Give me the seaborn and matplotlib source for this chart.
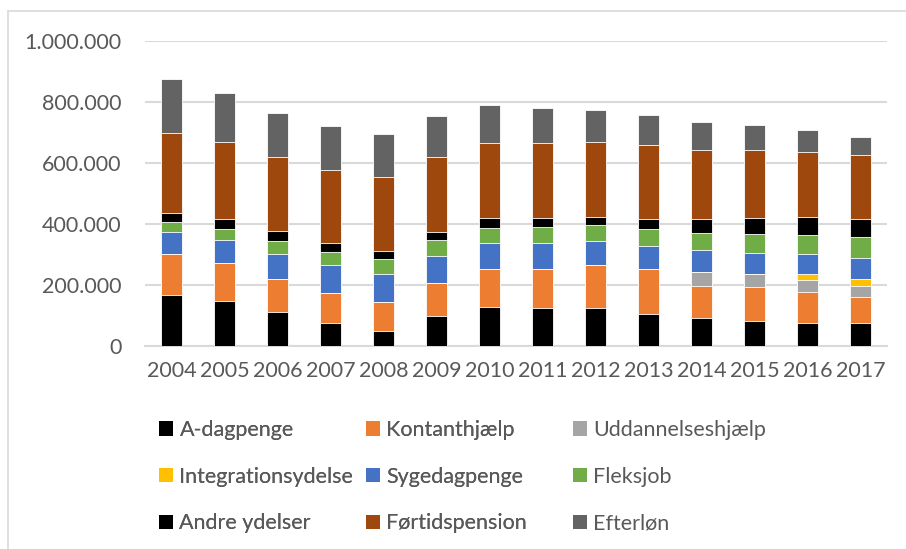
import matplotlib
matplotlib.use('Agg')
import numpy as np
import pandas as pd
import matplotlib.pyplot as plt
from matplotlib.patches import Patch
from matplotlib.lines import Line2D
import seaborn as sns

# values (persons)
years = ['2004', '2005', '2006', '2007', '2008', '2009', '2010',
         '2011', '2012', '2013', '2014', '2015', '2016', '2017']
a_dagpenge = [167000, 146000, 112000, 74000, 50000, 99000, 129000,
              125000, 125000, 105000, 92000, 83000, 77000, 77000]
kontanthjaelp = [134000, 126000, 109000, 99000, 95000, 109000, 122000,
                 128000, 140000, 149000, 105000, 110000, 101000, 84000]
uddannelseshjaelp = [0, 0, 0, 0, 0, 0, 0, 0, 0, 0, 45000, 43000, 39000, 36000]
integrationsydelse = [0, 0, 0, 0, 0, 0, 0, 0, 0, 0, 0, 0, 18000, 23000]
sygedagpenge = [74000, 76000, 82000, 91000, 91000, 88000, 87000,
                85000, 80000, 74000, 73000, 69000, 67000, 67000]
fleksjob = [30000, 37000, 41000, 44000, 48000, 51000, 50000,
            51000, 51000, 54000, 57000, 62000, 63000, 69000]
andre_ydelser = [32000, 33000, 32000, 30000, 28000, 28000, 31000,
                 30000, 28000, 36000, 43000, 54000, 59000, 61000]
fortidspension = [262000, 252000, 244000, 240000, 243000, 246000, 247000,
                  247000, 246000, 241000, 229000, 223000, 213000, 208000]
efterlon = [177000, 160000, 144000, 142000, 139000, 133000, 125000,
            115000, 105000, 99000, 91000, 80000, 72000, 61000]

labels = ['A-dagpenge', 'Kontanthjælp', 'Uddannelseshjælp', 'Integrationsydelse',
          'Sygedagpenge', 'Fleksjob', 'Andre ydelser', 'Førtidspension', 'Efterløn']
colors = ['#000000', '#ED7D31', '#A5A5A5', '#FFC000', '#4472C4',
          '#70AD47', '#000000', '#9E480E', '#636363']

df = pd.DataFrame({
    'A-dagpenge': a_dagpenge,
    'Kontanthjælp': kontanthjaelp,
    'Uddannelseshjælp': uddannelseshjaelp,
    'Integrationsydelse': integrationsydelse,
    'Sygedagpenge': sygedagpenge,
    'Fleksjob': fleksjob,
    'Andre ydelser': andre_ydelser,
    'Førtidspension': fortidspension,
    'Efterløn': efterlon,
}, index=years)
cum = df.cumsum(axis=1)

sns.set_style('white')
plt.rcParams['font.family'] = ['Lato', 'DejaVu Sans']
txt = '#595959'
grid = '#D9D9D9'
fs = 15.5

fig = plt.figure(figsize=(9.06, 5.49), dpi=100)
ax = fig.add_axes([145 / 906, 1 - 346 / 549, (887 - 145) / 906, (346 - 41) / 549])

# stacked bars: draw cumulative totals from the top layer down
for lab, col in reversed(list(zip(labels, colors))):
    sns.barplot(x=years, y=cum[lab].values, color=col, width=0.4, ax=ax,
                errorbar=None, saturation=1, edgecolor='white', linewidth=0.6, zorder=3)

ax.set_ylim(0, 1000000)
ax.set_yticks(np.arange(0, 1000001, 200000))
ax.set_yticklabels(['0', '200.000', '400.000', '600.000', '800.000', '1.000.000'])
ax.yaxis.grid(True, color=grid, linewidth=1.5, zorder=0)
ax.set_axisbelow(True)
for s in ['top', 'right', 'left']:
    ax.spines[s].set_visible(False)
ax.spines['bottom'].set_color(grid)
ax.spines['bottom'].set_linewidth(1.5)
ax.tick_params(axis='both', length=0, labelsize=fs, colors=txt)
ax.tick_params(axis='y', pad=17)
ax.tick_params(axis='x', pad=11)
ax.set_xlabel('')
ax.set_ylabel('')
ax.set_xlim(-0.5, len(years) - 0.5)

# legend: three columns placed like the reference
handles = {lab: Patch(facecolor=col, edgecolor='none') for lab, col in zip(labels, colors)}
columns = [['A-dagpenge', 'Integrationsydelse', 'Andre ydelser'],
           ['Kontanthjælp', 'Sygedagpenge', 'Førtidspension'],
           ['Uddannelseshjælp', 'Fleksjob', 'Efterløn']]
col_x = [159, 366, 573]
legs = []
for cx, names in zip(col_x, columns):
    leg = fig.legend([handles[n] for n in names], names, loc='upper left',
                     bbox_to_anchor=(cx / 906, 1 - 420 / 549), frameon=False,
                     fontsize=fs, labelcolor=txt, handlelength=0.65, handleheight=0.65,
                     handletextpad=0.3, labelspacing=1.24, borderpad=0, borderaxespad=0)
    legs.append(leg)
for leg in legs[:-1]:
    fig.add_artist(leg)

# outer chart frame (only top and left edges visible in the crop)
fig.add_artist(Line2D([8 / 906, 1], [1 - 11 / 549, 1 - 11 / 549], color=grid, lw=1.2,
                      transform=fig.transFigure))
fig.add_artist(Line2D([8 / 906, 8 / 906], [0, 1 - 11 / 549], color=grid, lw=1.2,
                      transform=fig.transFigure))

fig.savefig('out.png', dpi=100)
